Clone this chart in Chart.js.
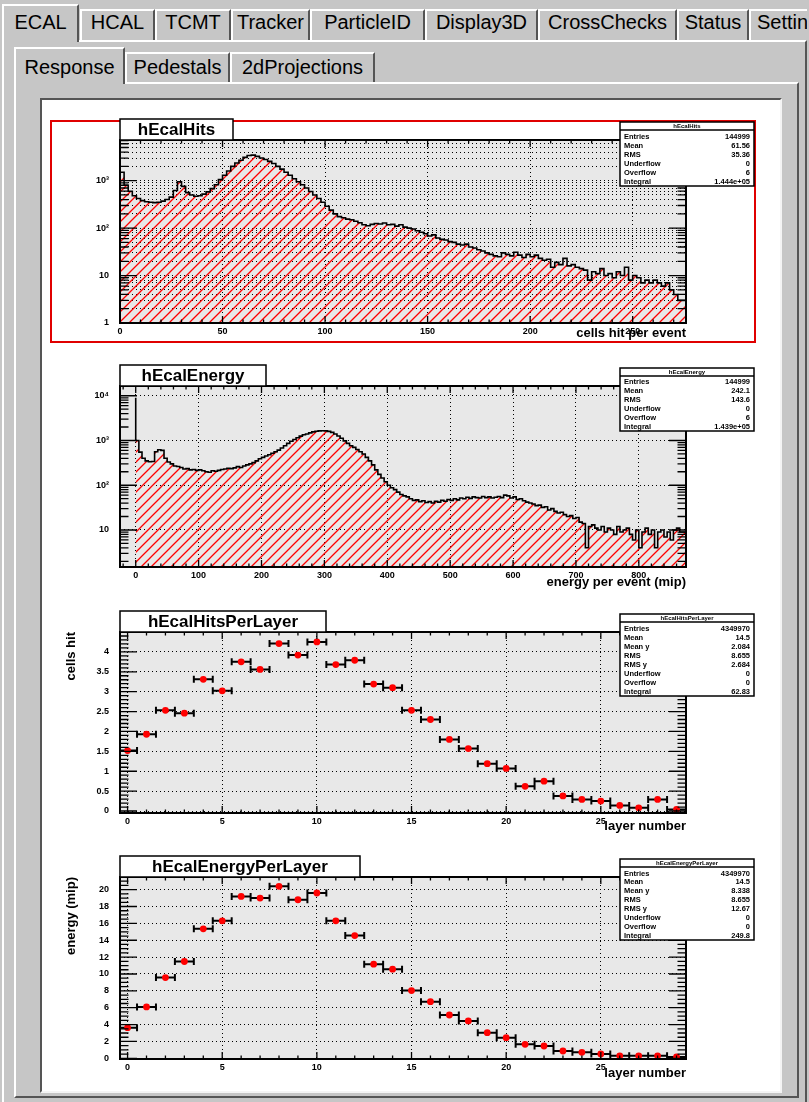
<!DOCTYPE html>
<html>
<head>
<meta charset="utf-8">
<title>ECAL Response</title>
<script src="https://cdn.jsdelivr.net/npm/chart.js@4.4.1/dist/chart.umd.min.js"></script>
<style>
body{margin:0;width:809px;height:1102px;overflow:hidden;background:#c6c6c6;position:relative;font-family:"Liberation Sans",Arial,sans-serif}
.tab{position:absolute;box-sizing:border-box;top:9px;height:31px;border-top:2px solid #fff;border-left:2px solid #fff;border-right:2px solid #555;background:#c6c6c6;font-size:20px;line-height:22px;text-align:center;color:#000;white-space:nowrap;overflow:hidden}
.tab.sel{top:4px;height:38px;padding-top:5px;z-index:2}
.tab2{top:52px;height:30px;line-height:26px}
.tab2.sel{top:47px;height:37px;padding-top:5px}
.panel{position:absolute;box-sizing:border-box;border-top:2px solid #fff;border-left:2px solid #fff;border-right:2px solid #555;border-bottom:2px solid #555}
canvas{position:absolute;left:0}
</style>
</head>
<body>
<div class="panel" style="left:2px;top:40px;width:805px;height:1070px"></div>
<div class="tab sel" style="left:2px;width:77px">ECAL</div>
<div class="tab" style="left:80px;width:75px">HCAL</div>
<div class="tab" style="left:155px;width:76px">TCMT</div>
<div class="tab" style="left:231px;width:79px">Tracker</div>
<div class="tab" style="left:310px;width:115px">ParticleID</div>
<div class="tab" style="left:425px;width:113px">Display3D</div>
<div class="tab" style="left:538px;width:139px">CrossChecks</div>
<div class="tab" style="left:677px;width:72px">Status</div>
<div class="tab" style="left:749px;width:58px;text-align:left;padding-left:6px;border-right:none">Settings</div>

<div class="panel" style="left:14px;top:82px;width:785px;height:1016px"></div>
<div class="tab tab2 sel" style="left:14px;width:111px">Response</div>
<div class="tab tab2" style="left:125px;width:105px">Pedestals</div>
<div class="tab tab2" style="left:230px;width:145px">2dProjections</div>

<div style="position:absolute;left:40px;top:98px;width:742px;height:995px;box-sizing:border-box;background:#fff;border-top:2px solid #555;border-left:2px solid #555;border-right:2px solid #f4f4f4;border-bottom:2px solid #f4f4f4"></div>
<div style="position:absolute;left:50px;top:120px;width:706px;height:223px;box-sizing:border-box;border:2px solid #e00000"></div>

<canvas id="c1" width="809" height="241" style="top:112px"></canvas>
<canvas id="c2" width="809" height="239" style="top:358px"></canvas>
<canvas id="c3" width="809" height="239" style="top:604px"></canvas>
<canvas id="c4" width="809" height="240" style="top:849px"></canvas>

<script>
const F = '"Liberation Sans", Arial, sans-serif';

// hEcalHits, bins of 2 cells from 0 to 276
const hitsBinWidth = 2;
const hitsCounts = [
  3000,1500,800,600,480,420,380,360,350,345,
  350,370,400,450,620,950,760,560,500,470,
  480,520,580,680,820,1050,1300,1600,2000,2350,
  2700,3100,3400,3450,3250,3000,2800,2550,2300,2000,
  1750,1500,1300,1100,950,820,700,590,500,420,
  350,290,240,200,175,165,155,150,140,130,
  118,112,120,125,122,128,118,120,110,118,
  105,100,96,88,82,76,68,72,62,58,
  56,52,50,46,44,46,40,38,35,33,
  30,28,26,25,30,28,26,31,27,24,
  28,25,27,23,21,22,15,19,17,23,
  16,17,15,14,13,8,12,11,14,10,
  11,9,12,10,15,8,10,9,7,8,
  7,8,7,6,7,5,4,3
];

// hEcalEnergy, bins of 5 mip from 0 to 875
const energyBinWidth = 5;
const energyCounts = [
  9000,1000,550,400,350,335,340,560,620,600,
  400,330,300,270,262,250,230,235,220,225,
  215,220,210,200,195,210,205,215,225,230,
  240,235,245,260,250,270,285,300,320,350,
  390,420,450,480,520,560,610,680,760,860,
  960,1050,1150,1250,1340,1400,1480,1560,1610,1640,
  1650,1640,1600,1520,1400,1260,1120,980,860,760,
  700,630,560,500,420,350,285,220,175,145,
  120,100,88,80,70,62,58,55,50,46,
  47,43,45,41,43,40,44,42,46,44,
  48,46,50,47,52,50,54,51,55,53,
  52,56,53,55,52,54,56,53,60,58,
  52,55,48,50,45,42,40,38,35,36,
  32,33,28,30,26,24,25,22,20,21,
  18,19,15,14,4,12,13,11,10,12,
  9,11,10,8,12,9,10,11,8,6,
  10,4,9,11,8,10,4,9,10,7,
  9,6,10,11,9
];

// profiles per layer
const layers = [0,1,2,3,4,5,6,7,8,9,10,11,12,13,14,15,16,17,18,19,20,21,22,23,24,25,26,27,28,29];
const hitsPerLayer = [1.52,1.93,2.53,2.46,3.31,3.02,3.75,3.56,4.21,3.92,4.25,3.68,3.79,3.19,3.10,
                      2.53,2.30,1.80,1.57,1.19,1.07,0.62,0.75,0.38,0.29,0.25,0.14,0.08,0.29,0.04];
const energyPerLayer = [3.64,6.09,9.58,11.48,15.36,16.3,19.2,19.0,20.4,18.8,19.6,16.3,14.56,11.16,10.57,
                        8.03,6.72,5.14,4.43,3.04,2.45,1.66,1.46,0.87,0.71,0.51,0.30,0.30,0.30,0.17];
const layerErr = 0.5;

// tick labels
const hitsXLabels = [0,50,100,150,200,250];
const energyXLabels = [0,100,200,300,400,500,600,700,800];
const layerXLabels = [0,5,10,15,20,25];
const hitsLayerYLabels = [0,0.5,1,1.5,2,2.5,3,3.5,4];
const energyLayerYLabels = [0,2,4,6,8,10,12,14,16,18,20];
const logLabels = {1:'1', 10:'10', 100:'10²', 1000:'10³', 10000:'10⁴'};

// stats boxes
const statsHits = [['Entries','144999'],['Mean','61.56'],['RMS','35.36'],['Underflow','0'],['Overflow','6'],['Integral','1.444e+05']];
const statsEnergy = [['Entries','144999'],['Mean','242.1'],['RMS','143.6'],['Underflow','0'],['Overflow','6'],['Integral','1.439e+05']];
const statsHitsLayer = [['Entries','4349970'],['Mean','14.5'],['Mean y','2.084'],['RMS','8.655'],['RMS y','2.684'],['Underflow','0'],['Overflow','0'],['Integral','62.83']];
const statsEnergyLayer = [['Entries','4349970'],['Mean','14.5'],['Mean y','8.338'],['RMS','8.655'],['RMS y','12.67'],['Underflow','0'],['Overflow','0'],['Integral','249.8']];

function steps(from, to, step) {
  const r = [];
  for (let v = from; v <= to + 1e-9; v += step) r.push(+v.toFixed(4));
  return r;
}
function logMinor(lo, hi) {
  const r = [];
  for (let d = 1; d <= hi; d *= 10)
    for (let m = 2; m < 10; m++) if (m * d >= lo && m * d <= hi) r.push(m * d);
  return r;
}

// red "/" hatch like ROOT fill style 3004
const tile = document.createElement('canvas');
tile.width = tile.height = 10;
const tg = tile.getContext('2d');
tg.strokeStyle = '#ff0000';
tg.lineWidth = 1.3;
tg.beginPath();
tg.moveTo(0, 10); tg.lineTo(10, 0);
tg.moveTo(-5, 5); tg.lineTo(5, -5);
tg.moveTo(5, 15); tg.lineTo(15, 5);
tg.stroke();
const hatch = tg.createPattern(tile, 'repeat');

function histDataset(counts, bw) {
  const pts = [{x: 0, y: 0}];
  counts.forEach((c, i) => pts.push({x: i * bw, y: c}));
  pts.push({x: counts.length * bw, y: counts[counts.length - 1]});
  return {data: pts, stepped: 'after', borderColor: '#000', borderWidth: 1.6,
          pointRadius: 0, fill: 'start', backgroundColor: hatch};
}
function profDataset(values) {
  return {data: layers.map((l, i) => ({x: l, y: values[i]})), pointRadius: 3.4,
          pointBackgroundColor: '#ff0000', pointBorderWidth: 0, showLine: false};
}

const rootPad = {
  id: 'rootPad',
  beforeDraw(chart) {
    const {ctx, chartArea: a} = chart;
    ctx.save();
    ctx.fillStyle = '#e8e8e8';
    ctx.fillRect(a.left, a.top, a.right - a.left, a.bottom - a.top);
    ctx.restore();
  },
  beforeDatasetsDraw(chart, args, o) {
    if (!o.xErr) return;
    const {ctx, chartArea: a, scales: {x, y}} = chart;
    ctx.save();
    ctx.beginPath(); ctx.rect(a.left, a.top, a.right - a.left, a.bottom - a.top); ctx.clip();
    ctx.strokeStyle = '#000'; ctx.lineWidth = 2;
    ctx.beginPath();
    chart.data.datasets[0].data.forEach(p => {
      const x1 = x.getPixelForValue(p.x - o.xErr), x2 = x.getPixelForValue(p.x + o.xErr), py = y.getPixelForValue(p.y);
      ctx.moveTo(x1, py); ctx.lineTo(x2, py);
      ctx.moveTo(x1, py - 3.5); ctx.lineTo(x1, py + 3.5);
      ctx.moveTo(x2, py - 3.5); ctx.lineTo(x2, py + 3.5);
    });
    ctx.stroke();
    ctx.restore();
  },
  afterDatasetsDraw(chart, args, o) {
    const {ctx, chartArea: a, scales: {x, y}} = chart;
    ctx.save();
    ctx.strokeStyle = '#000';
    ctx.lineWidth = 1.3;
    ctx.beginPath();
    const tick = (px, py, dx, dy) => { ctx.moveTo(px, py); ctx.lineTo(px + dx, py + dy); };
    o.xMajor.forEach(v => { const p = x.getPixelForValue(v); tick(p, a.bottom, 0, -7); tick(p, a.top, 0, 7); });
    o.xMinor.forEach(v => { const p = x.getPixelForValue(v); if (p > a.left && p < a.right) { tick(p, a.bottom, 0, -3.5); tick(p, a.top, 0, 3.5); } });
    o.yMajor.forEach(v => { const p = y.getPixelForValue(v); tick(a.left, p, 17, 0); tick(a.right, p, -17, 0); });
    o.yMinor.forEach(v => { const p = y.getPixelForValue(v); if (p > a.top && p < a.bottom) { tick(a.left, p, 8.5, 0); tick(a.right, p, -8.5, 0); } });
    ctx.stroke();
    ctx.lineWidth = 2;
    ctx.strokeRect(a.left, a.top, a.right - a.left, a.bottom - a.top);
    ctx.restore();
  },
  afterDraw(chart, args, o) {
    const {ctx, chartArea: a} = chart;
    ctx.save();
    ctx.strokeStyle = '#000';
    ctx.lineWidth = 1.5;
    // title box
    ctx.fillStyle = '#fff';
    ctx.fillRect(a.left, a.top - 21, o.titleW, 21);
    ctx.strokeRect(a.left, a.top - 21, o.titleW, 21);
    ctx.fillStyle = '#000';
    ctx.font = 'bold 17px ' + F;
    ctx.textAlign = 'center'; ctx.textBaseline = 'middle';
    ctx.fillText(o.title, a.left + o.titleW / 2, a.top - 10);
    // stats box
    const L = a.right - 66, R = a.right + 68, T = a.top - 18, B = T + o.statsH;
    ctx.fillStyle = '#fff';
    ctx.fillRect(L, T, R - L, B - T);
    ctx.strokeRect(L, T, R - L, B - T);
    ctx.beginPath(); ctx.moveTo(L, T + 8); ctx.lineTo(R, T + 8); ctx.stroke();
    ctx.fillStyle = '#000';
    ctx.font = 'bold 6px ' + F;
    ctx.fillText(o.title, (L + R) / 2, T + 4);
    ctx.font = 'bold 7.5px ' + F;
    const h = (B - T - 10) / o.stats.length;
    o.stats.forEach((r, i) => {
      const yy = T + 10 + h * (i + 0.5);
      ctx.textAlign = 'left'; ctx.fillText(r[0], L + 4, yy);
      ctx.textAlign = 'right'; ctx.fillText(r[1], R - 4, yy);
    });
    ctx.restore();
  }
};

function padChart(id, c) {
  const tickFont = {family: F, size: 9, weight: 'bold'};
  const titleFont = {family: F, size: 13, weight: 'bold'};
  return new Chart(document.getElementById(id), {
    type: c.type,
    data: {datasets: c.datasets},
    options: {
      responsive: false, animation: false, devicePixelRatio: 1,
      layout: {padding: {top: 28, right: 123, left: 0, bottom: 0}},
      plugins: {legend: {display: false}, tooltip: {enabled: false}, rootPad: c.pad},
      scales: {
        x: {
          type: 'linear', min: c.xMin, max: c.xMax,
          afterBuildTicks: s => { s.ticks = c.xLabels.map(v => ({value: v})); },
          afterFit: s => { s.height = 30; },
          ticks: {autoSkip: false, maxRotation: 0, padding: 3, color: '#000', font: tickFont, callback: v => String(v)},
          grid: {color: '#000', lineWidth: 1, drawTicks: false},
          border: {display: false, dash: [1, 3]},
          title: {display: true, text: c.xTitle, align: 'end', color: '#000', font: titleFont,
                  padding: {top: 0, bottom: c.xTitlePad}}
        },
        y: {
          type: c.yType, min: c.yMin, max: c.yMax,
          afterBuildTicks: s => { s.ticks = c.yGrid.map(v => ({value: v})); },
          afterFit: s => { s.width = 120; },
          ticks: {autoSkip: false, padding: 11, color: '#000', font: tickFont, callback: c.yLabel},
          grid: {color: '#000', lineWidth: 1, drawTicks: false},
          border: {display: false, dash: [1, 3]},
          title: {display: !!c.yTitle, text: c.yTitle || '', align: 'end', color: '#000', font: titleFont,
                  padding: {top: 64, bottom: 0}}
        }
      }
    },
    plugins: [rootPad]
  });
}

padChart('c1', {
  type: 'line', datasets: [histDataset(hitsCounts, hitsBinWidth)],
  xMin: 0, xMax: 276, xLabels: hitsXLabels, xTitle: 'cells hit per event', xTitlePad: 12,
  yType: 'logarithmic', yMin: 1, yMax: 7200,
  yGrid: [1, 10, 100, 1000].concat(logMinor(1, 7200)), yLabel: v => logLabels[v] || '',
  pad: {title: 'hEcalHits', titleW: 113, stats: statsHits, statsH: 64,
        xMajor: hitsXLabels, xMinor: steps(0, 270, 10), yMajor: [1, 10, 100, 1000], yMinor: logMinor(1, 7200)}
});

padChart('c2', {
  type: 'line', datasets: [histDataset(energyCounts, energyBinWidth)],
  xMin: -25, xMax: 875, xLabels: energyXLabels, xTitle: 'energy per event (mip)', xTitlePad: 7,
  yType: 'logarithmic', yMin: 1.49, yMax: 16500,
  yGrid: [10, 100, 1000, 10000], yLabel: v => logLabels[v] || '',
  pad: {title: 'hEcalEnergy', titleW: 146, stats: statsEnergy, statsH: 63,
        xMajor: energyXLabels, xMinor: steps(-20, 860, 20), yMajor: [10, 100, 1000, 10000], yMinor: logMinor(1.49, 16500)}
});

padChart('c3', {
  type: 'scatter', datasets: [profDataset(hitsPerLayer)],
  xMin: -0.4, xMax: 29.5, xLabels: layerXLabels, xTitle: 'layer number', xTitlePad: 9,
  yType: 'linear', yMin: -0.05, yMax: 4.5, yTitle: 'cells hit',
  yGrid: hitsLayerYLabels, yLabel: v => String(v),
  pad: {title: 'hEcalHitsPerLayer', titleW: 206, stats: statsHitsLayer, statsH: 82, xErr: layerErr,
        xMajor: layerXLabels, xMinor: steps(0, 29, 1), yMajor: hitsLayerYLabels, yMinor: steps(0, 4.5, 0.1)}
});

padChart('c4', {
  type: 'scatter', datasets: [profDataset(energyPerLayer)],
  xMin: -0.4, xMax: 29.5, xLabels: layerXLabels, xTitle: 'layer number', xTitlePad: 8,
  yType: 'linear', yMin: -0.08, yMax: 21.5, yTitle: 'energy (mip)',
  yGrid: energyLayerYLabels, yLabel: v => String(v),
  pad: {title: 'hEcalEnergyPerLayer', titleW: 240, stats: statsEnergyLayer, statsH: 81, xErr: layerErr,
        xMajor: layerXLabels, xMinor: steps(0, 29, 1), yMajor: energyLayerYLabels, yMinor: steps(0, 21.5, 0.5)}
});
</script>
</body>
</html>
